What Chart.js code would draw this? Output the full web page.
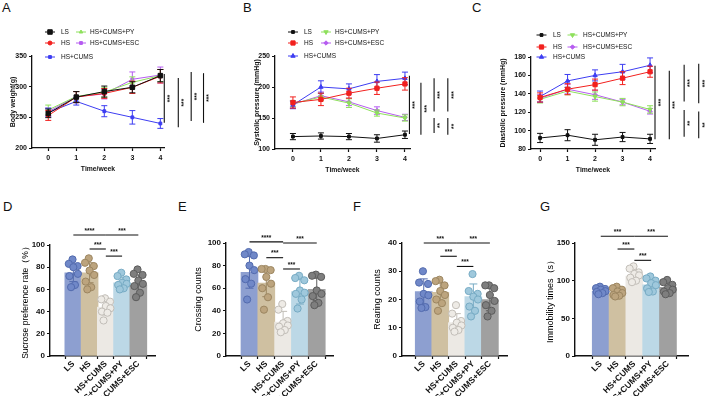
<!DOCTYPE html>
<html>
<head>
<meta charset="utf-8">
<script src="https://cdn.jsdelivr.net/npm/chart.js@4.4.1/dist/chart.umd.min.js"></script>
<style>
body { margin: 0; background: #fff; width: 708px; height: 410px; position: relative; overflow: hidden; font-family: 'Liberation Sans', Arial, sans-serif; }
canvas { position: absolute; }
.lab { position: absolute; font-size: 13px; line-height: 13px; color: #111; }
</style>
</head>
<body>
<div class="lab" style="left:2px;top:1px">A</div>
<div class="lab" style="left:243px;top:1px">B</div>
<div class="lab" style="left:472px;top:1px">C</div>
<div class="lab" style="left:3px;top:200px">D</div>
<div class="lab" style="left:178px;top:200px">E</div>
<div class="lab" style="left:353px;top:200px">F</div>
<div class="lab" style="left:540px;top:200px">G</div>

<canvas id="cA" width="236" height="190" style="left:0;top:0"></canvas>
<canvas id="cB" width="236" height="190" style="left:236px;top:0"></canvas>
<canvas id="cC" width="236" height="190" style="left:472px;top:0"></canvas>
<canvas id="cD" width="175" height="215" style="left:0;top:195px"></canvas>
<canvas id="cE" width="175" height="215" style="left:175px;top:195px"></canvas>
<canvas id="cF" width="175" height="215" style="left:350px;top:195px"></canvas>
<canvas id="cG" width="183" height="215" style="left:525px;top:195px"></canvas>

<script>
// ---- data ----
var weeks = [0, 1, 2, 3, 4];
var groups = ['LS', 'HS', 'HS+CUMS', 'HS+CUMS+PY', 'HS+CUMS+ESC'];

// A body weight (g): one row per group, one value per week
var weightMean = [
  [256.5, 283, 292, 299, 318],
  [253, 283, 289, 299, 317],
  [258, 276, 260, 250, 240],
  [262, 284, 291, 307, 318],
  [259, 284, 288, 312, 319]
];
var weightSd = [
  [7, 9, 9, 9, 10],
  [8, 9, 8, 10, 11],
  [7, 6, 9, 11, 8],
  [8, 8, 8, 9, 10],
  [6, 8, 8, 12, 13]
];

// B systolic pressure (mmHg)
var sbpMean = [
  [120, 121, 120, 117, 123],
  [175, 180, 190, 198, 205],
  [171, 200, 197, 209, 214],
  [173, 184, 174, 158, 150],
  [172, 186, 176, 162, 151]
];
var sbpSd = [
  [5, 5, 5, 6, 6],
  [9, 10, 8, 10, 10],
  [6, 10, 8, 11, 10],
  [5, 6, 7, 5, 5],
  [6, 6, 6, 6, 5]
];

// C diastolic pressure (mmHg)
var dbpMean = [
  [92, 95, 90, 93, 91],
  [136, 145, 150, 157, 164],
  [137, 154, 160, 164, 171],
  [134, 143, 137, 131, 123],
  [135, 145, 139, 131, 121]
];
var dbpSd = [
  [5, 6, 6, 5, 5],
  [5, 6, 6, 7, 6],
  [6, 7, 6, 8, 8],
  [4, 4, 5, 4, 4],
  [4, 5, 5, 3, 3]
];

// significance lines at week 4: [from, to, stars]
var weightSig = [[320.6, 241, '***'], [314, 234, '***'], [324, 244, '***'], [322, 241, '***']];
var sbpSig = [[218, 124, '***'], [207, 123, '***'], [214, 160.5, '***'], [150, 126, '**'], [214, 160.5, '***'], [150, 123, '**']];
var dbpSig = [[170.5, 90.6, '***'], [165, 90.6, '***'], [171.6, 131.6, '***'], [122.5, 93.4, '**'], [172.7, 129.8, '***'], [120.7, 91.7, '**']];

// D sucrose preference rate (%)
var sucroseMean = [75, 75, 44, 66, 64];
var sucroseSd = [8, 9, 7, 5, 9];
var sucroseDots = [
  [87, 83, 81, 80, 74, 72, 64, 62],
  [88, 84, 81, 77, 73, 67, 62, 60],
  [52, 51, 49, 45, 43, 40, 39, 32],
  [75, 72, 69, 66, 65, 64, 61, 60],
  [78, 74, 73, 68, 65, 63, 57, 53]
];
var sucroseSig = [[0, 2, 109, '****'], [2, 4, 109, '***'], [1, 2, 96.4, '***'], [2, 3, 90, '***']];

// E crossing counts
var crossMean = [74, 64.5, 30, 57, 59];
var crossSd = [14, 12, 9.5, 11, 10];
var crossDots = [
  [92, 90, 89, 80, 76, 68, 64, 50],
  [77, 77, 76, 70, 64, 60, 52, 41],
  [46, 41, 31, 29, 27, 26, 23, 21],
  [71, 69, 67, 58, 56, 55, 50, 42],
  [72, 71, 70, 58, 55, 53, 47, 45]
];
var crossSig = [[0, 2, 101, '****'], [2, 4, 100, '***'], [1, 2, 87, '***'], [2, 3, 77, '***']];

// F rearing counts
var rearMean = [22.8, 22.5, 11.8, 21, 20];
var rearSd = [4.5, 3.5, 3.2, 4.5, 4];
var rearDots = [
  [30, 26, 25.5, 22, 21.5, 19.3, 17.3, 17],
  [27, 26.5, 25, 23, 21.6, 20, 18.7, 16],
  [18, 15, 12.4, 11.8, 10.8, 10, 9.2, 8.6],
  [29, 23, 22, 21, 20, 17.5, 16, 14],
  [25, 25, 24, 21.6, 19.5, 18, 16, 14]
];
var rearSig = [[0, 2, 40, '***'], [2, 4, 40, '***'], [1, 2, 35.3, '***'], [2, 3, 31.7, '***']];

// G immobility times (s)
var immobMean = [86, 84, 106, 94.5, 91];
var immobSd = [3, 4, 7, 7, 6];
var immobDots = [
  [92, 90, 89, 88, 86, 85, 83.5, 82],
  [92, 90, 88, 85.6, 83.5, 81, 80, 79],
  [119, 116, 111, 109, 107, 104, 100, 98],
  [105.6, 103, 100, 96.7, 94, 89.7, 85.6, 85],
  [101, 98, 94.5, 90, 88, 85.6, 83.5, 82]
];
var immobSig = [[0, 2, 159, '***'], [2, 4, 159, '***'], [1, 2, 142, '***'], [2, 3, 127, '***']];

// ---- styles ----
var FONT = "'Liberation Sans', Arial, sans-serif";
var INK = '#111';
var lineColors = ['#111111', '#f2201e', '#3d3df2', '#8ee05c', '#b65cf0'];
var barFill = ['#8d9fd0', '#cfc0a1', '#ece9e4', '#bcd8e6', '#a0a0a0'];
var dotFill = ['#7088c8', '#bca47e', '#eeebe6', '#9fc8dc', '#7e7e7e'];
var dotEdge = ['#536bae', '#9c8661', '#c2beb8', '#77abc4', '#5c5c5c'];
var jitter = [-0.05, -0.28, 0.26, 0.0, 0.28, -0.24, 0.1, -0.14];

Chart.defaults.font.family = FONT;
Chart.defaults.color = INK;

var errorBars = {
  id: 'errorBars',
  afterDatasetDraw: function (chart, args) {
    var ds = chart.data.datasets[args.index];
    if (!ds.errors) return;
    var ctx = chart.ctx, ys = chart.scales.y, w = ds.capWidth || 3;
    ctx.save();
    ctx.lineWidth = 1;
    args.meta.data.forEach(function (el, i) {
      var d = ds.data[i], m = typeof d === 'object' ? d.y : d, e = ds.errors[i];
      var top = ys.getPixelForValue(m + e), bot = ys.getPixelForValue(m - e);
      ctx.strokeStyle = Array.isArray(ds.errorColor) ? ds.errorColor[i] : (ds.errorColor || ds.borderColor);
      ctx.beginPath();
      ctx.moveTo(el.x, top); ctx.lineTo(el.x, bot);
      ctx.moveTo(el.x - w, top); ctx.lineTo(el.x + w, top);
      ctx.moveTo(el.x - w, bot); ctx.lineTo(el.x + w, bot);
      ctx.stroke();
    });
    ctx.restore();
  }
};

var sigMarks = {
  id: 'sigMarks',
  afterDraw: function (chart, args, opts) {
    if (!opts.marks) return;
    var ctx = chart.ctx, xs = chart.scales.x, ys = chart.scales.y;
    ctx.save();
    ctx.strokeStyle = INK; ctx.fillStyle = INK; ctx.lineWidth = 1.1;
    ctx.font = 'bold 6.5px ' + FONT;
    ctx.textAlign = 'center'; ctx.textBaseline = 'middle';
    opts.marks.forEach(function (m, i) {
      if (opts.vertical) {
        var x = xs.getPixelForValue(opts.cols[i]);
        var a = ys.getPixelForValue(m[0]), b = ys.getPixelForValue(m[1]);
        ctx.beginPath(); ctx.moveTo(x, a); ctx.lineTo(x, b); ctx.stroke();
        ctx.save();
        ctx.translate(x + 6, (a + b) / 2);
        ctx.rotate(-Math.PI / 2);
        ctx.fillText(m[2], 0, 0);
        ctx.restore();
      } else {
        var x0 = xs.getPixelForValue(m[0]), x1 = xs.getPixelForValue(m[1]), y = ys.getPixelForValue(m[2]);
        ctx.beginPath(); ctx.moveTo(x0, y); ctx.lineTo(x1, y); ctx.stroke();
        ctx.fillText(m[3], (x0 + x1) / 2, y - 4);
      }
    });
    ctx.restore();
  }
};

var miniLegend = {
  id: 'miniLegend',
  afterDraw: function (chart, args, opts) {
    if (!opts.cols) return;
    var ctx = chart.ctx;
    ctx.save();
    ctx.font = '6.5px ' + FONT;
    ctx.textBaseline = 'middle'; ctx.textAlign = 'left';
    chart.data.datasets.forEach(function (ds, i) {
      var col = opts.cols[i < 3 ? 0 : 1], y = opts.rows[i < 3 ? i : i - 3];
      ctx.strokeStyle = ds.borderColor; ctx.fillStyle = ds.borderColor; ctx.lineWidth = 1;
      ctx.beginPath(); ctx.moveTo(col[0] - 5, y); ctx.lineTo(col[0] + 5, y); ctx.stroke();
      Chart.helpers.drawPoint(ctx, {pointStyle: ds.pointStyle, radius: ds.pointRadius, rotation: ds.pointRotation || 0, borderWidth: 1}, col[0], y);
      ctx.fillStyle = INK;
      ctx.fillText(ds.label, col[1], y);
    });
    ctx.restore();
  }
};

function axisGrid() {
  return {drawOnChartArea: false, drawTicks: true, tickLength: 3, tickColor: INK, tickWidth: 1.2};
}

function lineChart(id, means, sds, sig, cfg) {
  var datasets = groups.map(function (g, i) {
    return {
      label: g,
      data: weeks.map(function (w, j) { return {x: w, y: means[i][j]}; }),
      errors: sds[i],
      borderColor: lineColors[i],
      backgroundColor: lineColors[i],
      borderWidth: 1,
      pointStyle: cfg.marks[i][0],
      pointRadius: cfg.marks[i][1],
      pointRotation: cfg.marks[i][2] || 0,
      pointBorderWidth: 1,
      capWidth: 3
    };
  });
  return new Chart(document.getElementById(id), {
    type: 'line',
    data: {datasets: datasets},
    options: {
      responsive: false,
      animation: false,
      layout: {padding: cfg.pad},
      plugins: {
        legend: {display: false},
        tooltip: {enabled: false},
        miniLegend: cfg.legend,
        sigMarks: {marks: sig, cols: cfg.sigCols, vertical: true}
      },
      scales: {
        x: {
          type: 'linear', min: cfg.xMin, max: cfg.xMax,
          afterBuildTicks: function (s) { s.ticks = weeks.map(function (w) { return {value: w}; }); },
          afterFit: function (s) { s.height = 26; },
          grid: axisGrid(),
          border: {display: true, color: INK, width: 1.3},
          ticks: {font: {size: 7, weight: 'bold'}, color: INK, padding: 3},
          title: {display: true, text: 'Time/week', font: {size: 6.8, weight: 'bold'}, color: INK, padding: {top: 0, bottom: 1}}
        },
        y: {
          min: cfg.yMin, max: cfg.yMax,
          afterFit: function (s) { s.width = cfg.yw; },
          grid: axisGrid(),
          border: {display: true, color: INK, width: 1.3},
          ticks: {stepSize: cfg.step, font: {size: 7, weight: 'bold'}, color: INK, padding: 2},
          title: {display: true, text: cfg.title, font: {size: 7, weight: 'bold'}, color: INK, padding: {top: 0, bottom: 0}}
        }
      }
    },
    plugins: [errorBars, sigMarks, miniLegend]
  });
}

function barChart(id, means, sds, dots, sig, cfg) {
  var dotData = [], fills = [], edges = [];
  dots.forEach(function (vals, g) {
    vals.forEach(function (v, k) {
      dotData.push({x: g + jitter[k % jitter.length], y: v});
      fills.push(dotFill[g]);
      edges.push(dotEdge[g]);
    });
  });
  return new Chart(document.getElementById(id), {
    type: 'bar',
    data: {
      datasets: [
        {
          type: 'scatter', data: dotData, order: 0,
          pointRadius: 3.6, pointBackgroundColor: fills, pointBorderColor: edges, pointBorderWidth: 1
        },
        {
          type: 'bar', order: 1,
          data: means.map(function (m, i) { return {x: i, y: m}; }),
          errors: sds, errorColor: dotEdge, capWidth: 4,
          backgroundColor: barFill, barThickness: 17
        }
      ]
    },
    options: {
      responsive: false,
      animation: false,
      layout: {padding: cfg.pad},
      plugins: {
        legend: {display: false},
        tooltip: {enabled: false},
        sigMarks: {marks: sig}
      },
      scales: {
        x: {
          type: 'linear', min: cfg.xMin, max: cfg.xMax,
          afterBuildTicks: function (s) { s.ticks = groups.map(function (g, i) { return {value: i}; }); },
          afterFit: function (s) { s.height = 40; },
          grid: axisGrid(),
          border: {display: true, color: INK, width: 1.4},
          ticks: {
            autoSkip: false, minRotation: 45, maxRotation: 45, padding: 0,
            font: {size: 8.5, weight: 'bold'}, color: INK,
            callback: function (v) { return groups[v]; }
          }
        },
        y: {
          min: 0, max: cfg.yMax,
          afterFit: function (s) { s.width = cfg.yw; },
          grid: axisGrid(),
          border: {display: true, color: INK, width: 1.4},
          ticks: {stepSize: cfg.step, font: {size: 8, weight: 'bold'}, color: INK, padding: 2},
          title: {display: true, text: cfg.title, font: {size: cfg.titleSize}, color: '#000', padding: {top: 0, bottom: 0}}
        }
      }
    },
    plugins: [errorBars, sigMarks]
  });
}

lineChart('cA', weightMean, weightSd, weightSig, {
  pad: {left: 8.8, top: 56, right: 72, bottom: 16}, yw: 23.2,
  xMin: -0.58, xMax: 4.13, yMin: 200, yMax: 350, step: 50,
  title: 'Body weight(g)',
  marks: [['rect', 3.2], ['circle', 2], ['rect', 2], ['triangle', 2], ['rect', 2]],
  sigCols: [4.14, 4.64, 5.10, 5.54],
  legend: {cols: [[50, 61], [81, 90]], rows: [32, 43, 57]}
});

lineChart('cB', sbpMean, sbpSd, sbpSig, {
  pad: {left: 16.8, top: 56, right: 62, bottom: 15}, yw: 22.2,
  xMin: -0.64, xMax: 4.18, yMin: 100, yMax: 250, step: 50,
  title: 'Systolic pressure (mmHg)',
  marks: [['rect', 2], ['rect', 3], ['triangle', 2.5], ['triangle', 2.5, 180], ['rectRot', 2.2]],
  sigCols: [4.16, 4.57, 5.04, 5.04, 5.53, 5.53],
  legend: {cols: [[57, 68], [90, 99]], rows: [32, 43, 56]}
});

lineChart('cC', dbpMean, dbpSd, dbpSig, {
  pad: {left: 26.8, top: 57, right: 53, bottom: 15}, yw: 32.2,
  xMin: -0.33, xMax: 4.18, yMin: 80, yMax: 180, step: 20,
  title: 'Diastolic pressure (mmHg)',
  marks: [['rect', 2], ['rect', 3], ['triangle', 2.5], ['triangle', 2.5, 180], ['rectRot', 2.2]],
  sigCols: [4.18, 4.70, 5.24, 5.24, 5.77, 5.77],
  legend: {cols: [[69.5, 81], [100.5, 111]], rows: [35, 47, 57]}
});

barChart('cD', sucroseMean, sucroseSd, sucroseDots, sucroseSig, {
  pad: {left: 20.9, top: 50, right: 20, bottom: 14}, yw: 29.1,
  xMin: -0.79, xMax: 4.38, yMax: 100, step: 20,
  title: 'Sucrose preference rate（%）', titleSize: 8.5
});

barChart('cE', crossMean, crossSd, crossDots, crossSig, {
  pad: {left: 18.6, top: 48, right: 17, bottom: 14}, yw: 32.4,
  xMin: -0.76, xMax: 4.33, yMax: 100, step: 20,
  title: 'Crossing counts', titleSize: 9
});

barChart('cF', rearMean, rearSd, rearDots, rearSig, {
  pad: {left: 22.6, top: 48, right: 18, bottom: 14}, yw: 29.4,
  xMin: -0.68, xMax: 4.40, yMax: 40, step: 10,
  title: 'Rearing counts', titleSize: 9
});

barChart('cG', immobMean, immobSd, immobDots, immobSig, {
  pad: {left: 20.6, top: 48, right: 20, bottom: 14}, yw: 29.4,
  xMin: -0.86, xMax: 4.52, yMax: 150, step: 50,
  title: 'Immobility times（s）', titleSize: 9
});
</script>
</body>
</html>
